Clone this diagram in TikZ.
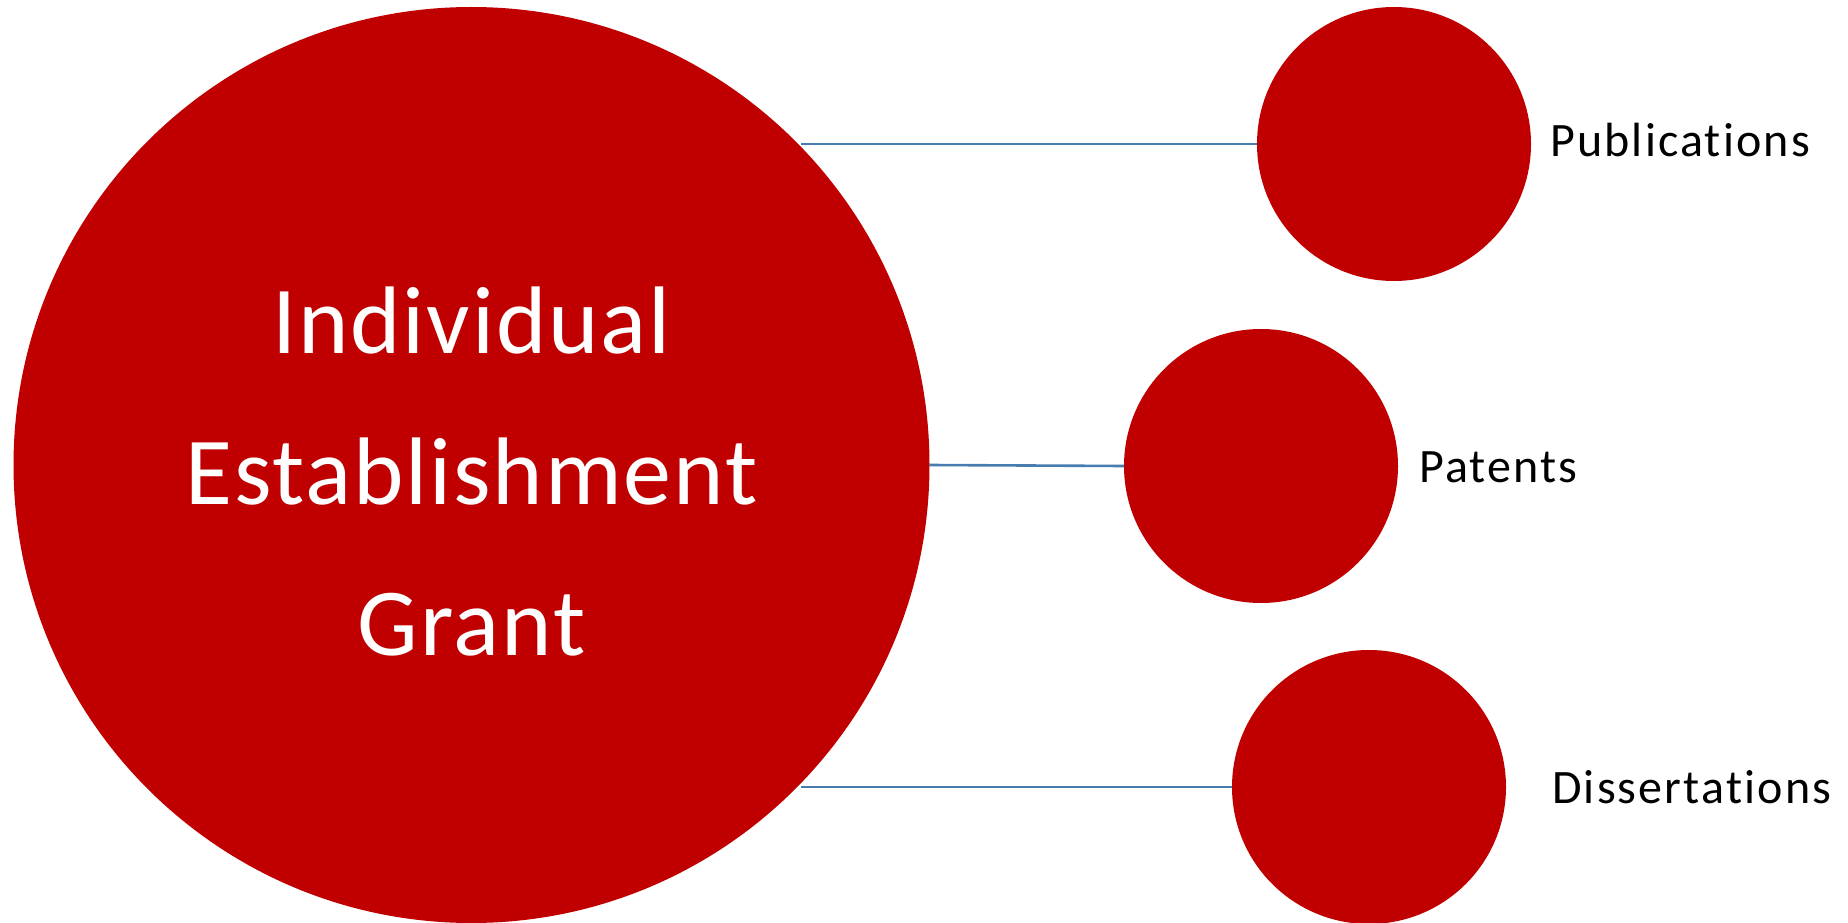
\documentclass[tikz,border=0pt]{standalone}
\usepackage{fontspec}
\setmainfont[Ligatures=CommonOff]{Carlito}
\newfontfamily\titlefont[Ligatures=CommonOff,LetterSpace=2]{Carlito}
\newfontfamily\labelfont[Ligatures=CommonOff,LetterSpace=4.5]{Carlito}
\definecolor{grantred}{RGB}{192,0,0}
\definecolor{linkblue}{RGB}{70,124,176}
\begin{document}
\begin{tikzpicture}[x=1pt,y=-1pt,
  bubble/.style={circle,fill=grantred,draw=none,inner sep=0pt},
  bigbubble/.style={bubble,minimum size=916pt},
  smallbubble/.style={bubble,minimum size=274pt},
  link/.style={draw=linkblue,line width=2.6pt},
  caption/.style={inner sep=0pt,anchor=base west,font=\labelfont\fontsize{48}{56}\selectfont}]
\useasboundingbox (0,0) rectangle (1848,923);
\clip (0,0) rectangle (1848,923);

% main bubble
\node[bigbubble] (grant) at (471.5,465) {};
\node[text=white,align=center,font=\titlefont\fontsize{96}{151}\selectfont,yshift=-7pt]
  (granttext) at (grant.center) {Individual\\Establishment\\Grant};

% outcome bubbles
\node[smallbubble] (pub) at (1394,144) {};
\node[smallbubble] (pat) at (1261,466) {};
\node[smallbubble] (dis) at (1369,787) {};

% labels
\node[caption] (publab) at (1550,157) {Publications};
\node[caption] (patlab) at (1419,482) {Patents};
\node[caption] (dislab) at (1552,803) {Dissertations};

% connectors, kept horizontal from the main bubble's rim
\draw[link] (grant.44.5 |- pub.west) -- (pub.west);
\draw[link] (grant.east) -- (pat.west);
\draw[link] (grant.-44.6 |- dis.west) -- (dis.west);
\end{tikzpicture}
\end{document}
